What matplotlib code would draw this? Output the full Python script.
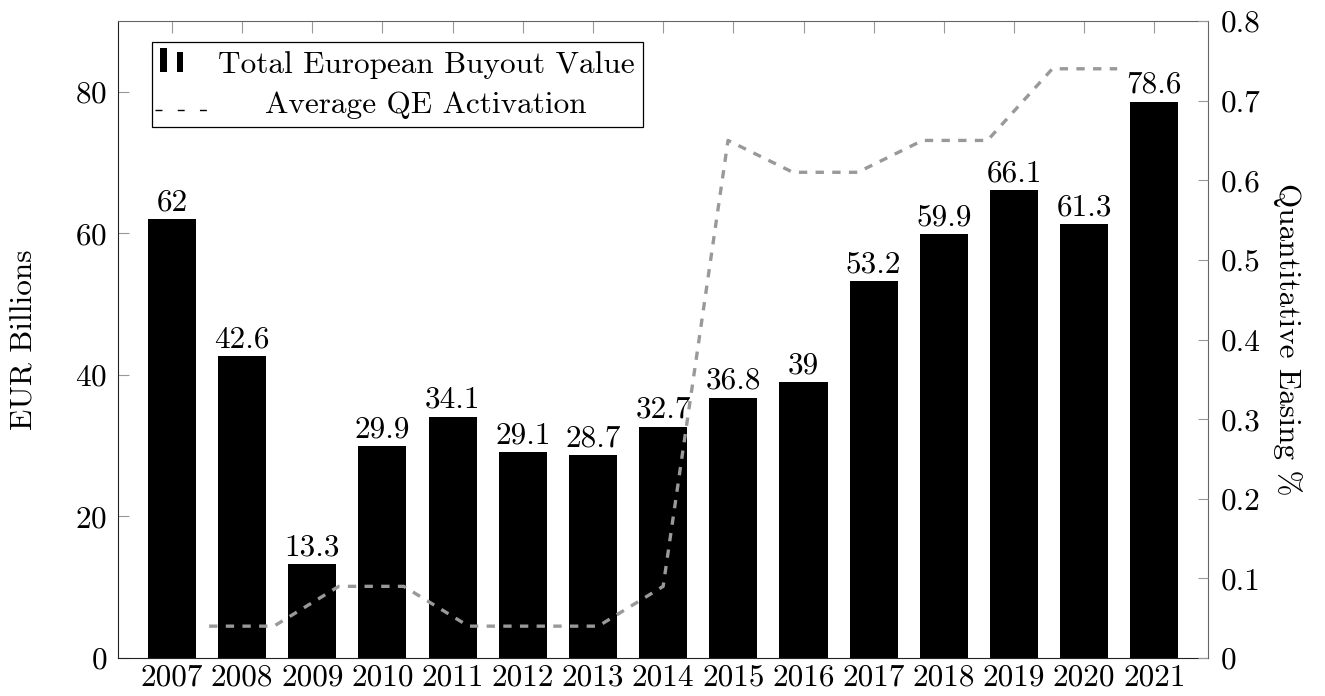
import numpy as np
import matplotlib
matplotlib.use("Agg")
import matplotlib.pyplot as plt
from matplotlib.patches import Rectangle
from matplotlib.lines import Line2D

plt.rcParams['font.family'] = ['cmr10', 'DejaVu Serif']
plt.rcParams['axes.formatter.use_mathtext'] = True
plt.rcParams['font.size'] = 22.5

# data
years = [2007, 2008, 2009, 2010, 2011, 2012, 2013, 2014,
         2015, 2016, 2017, 2018, 2019, 2020, 2021]
buyout = [62, 42.6, 13.3, 29.9, 34.1, 29.1, 28.7, 32.7,
          36.8, 39, 53.2, 59.9, 66.1, 61.3, 78.6]
qe = [0.04, 0.04, 0.09, 0.09, 0.04, 0.04, 0.04, 0.09,
      0.65, 0.61, 0.61, 0.65, 0.65, 0.74, 0.74]
left_ticks = [0, 20, 40, 60, 80]
right_ticks = [0, 0.1, 0.2, 0.3, 0.4, 0.5, 0.6, 0.7, 0.8]
right_labels = ['0', '0.1', '0.2', '0.3', '0.4', '0.5', '0.6', '0.7', '0.8']

W, H = 1325, 696
fig = plt.figure(figsize=(W / 100, H / 100), dpi=100)
pos = [118.3 / W, (H - 658) / H, 1089.7 / W, 637 / H]

tick_gray = '#999999'

# bars
ax = fig.add_axes(pos)
ax.bar(years, buyout, width=0.685, color='black')
ax.set_xlim(years[0] - 0.764, years[-1] + 0.764)
ax.set_ylim(0, 90)
ax.set_xticks(years)
ax.set_xticklabels([str(y) for y in years])
ax.set_yticks(left_ticks)
ax.tick_params(axis='x', bottom=False, top=True, direction='in',
               length=8.5, color=tick_gray, pad=4)
ax.tick_params(axis='y', left=True, direction='in', length=8,
               color=tick_gray, pad=8)
for s in ['top', 'right']:
    ax.spines[s].set_color('#666666')
for s in ['left', 'bottom']:
    ax.spines[s].set_color('#222222')

for x, v in zip(years, buyout):
    ax.annotate(f"{v:g}", (x, v), xytext=(0, 2), textcoords='offset points',
                ha='center', va='bottom')

# QE line on its own axis
ax2 = fig.add_axes(pos, frameon=False)
ax2.plot(years, qe, color='#999999', lw=2.4, dashes=(2.5, 2.5))
ax2.set_xlim(years[0] - 1.4, years[-1] + 1.4)
ax2.set_ylim(0, 0.8)
ax2.set_xticks([])
ax2.yaxis.tick_right()
ax2.set_yticks(right_ticks)
ax2.set_yticklabels(right_labels)
ax2.tick_params(axis='y', direction='in', length=7.5, color=tick_gray, pad=9)

fig.text(25 / W, 1 - 339.5 / H, 'EUR Billions', rotation=90,
         ha='center', va='center')
fig.text(1287 / W, 1 - 339.5 / H, 'Quantitative Easing %', rotation=-90,
         ha='center', va='center')

# legend, drawn by hand
t = ax2.transAxes
ax2.add_patch(Rectangle((0.0307, 0.834), 0.4508, 0.1335, transform=t,
                        facecolor='white', edgecolor='black', lw=0.9, zorder=5))
ax2.add_patch(Rectangle((0.0383, 0.920), 0.0062, 0.0383, transform=t,
                        facecolor='black', edgecolor='none', zorder=6))
ax2.add_patch(Rectangle((0.0542, 0.920), 0.0055, 0.0314, transform=t,
                        facecolor='black', edgecolor='none', zorder=6))
ax2.add_line(Line2D([0.0337, 0.0857], [0.860, 0.860], transform=t,
                    color='black', lw=1.0, dashes=(5, 11), zorder=6))
ax2.text(0.2824, 0.919, 'Total European Buyout Value', transform=t,
         ha='center', va='baseline', zorder=7)
ax2.text(0.2824, 0.856, 'Average QE Activation', transform=t,
         ha='center', va='baseline', zorder=7)

fig.savefig('out.png', dpi=100)
